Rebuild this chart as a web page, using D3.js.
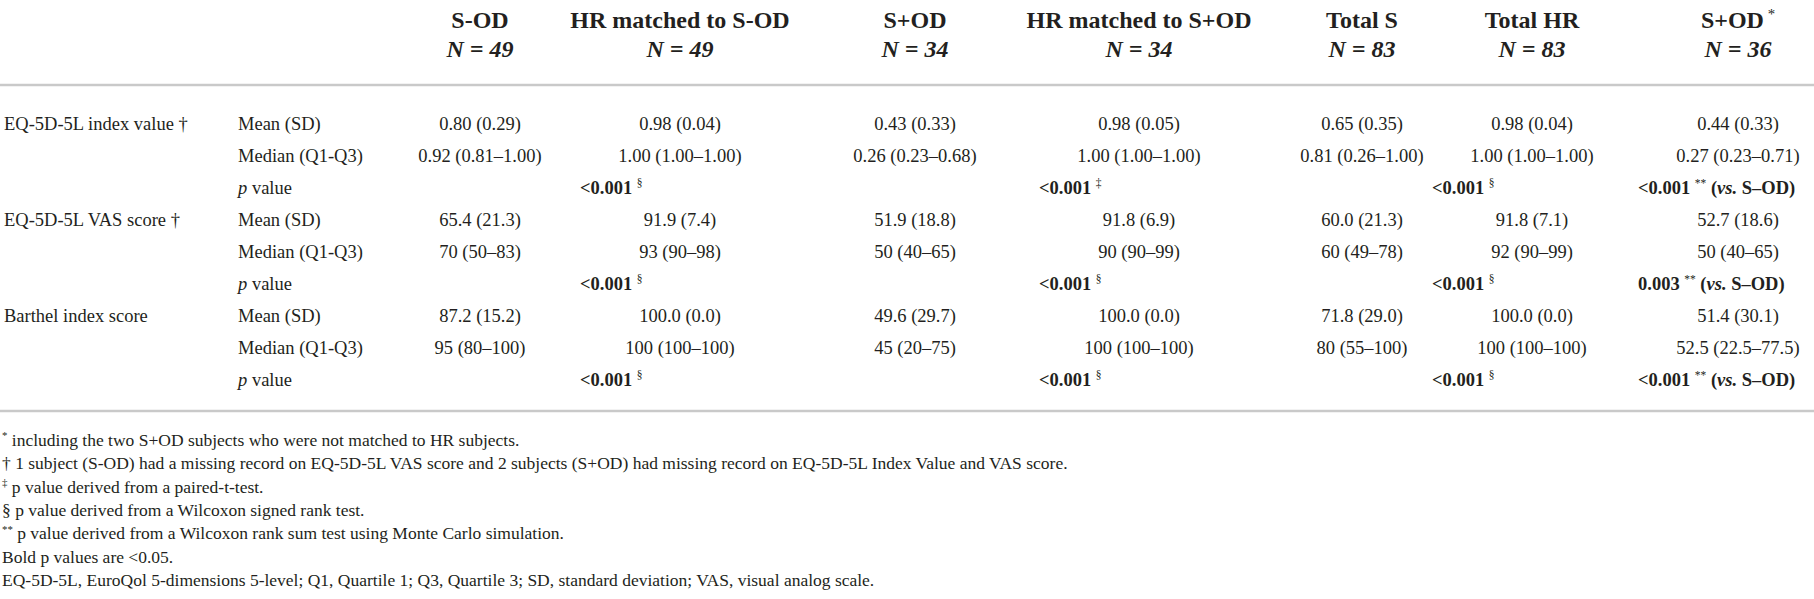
<!DOCTYPE html>
<html>
<head>
<meta charset="utf-8">
<script src="https://cdn.jsdelivr.net/npm/d3@7"></script>
<style>
  html, body { margin: 0; padding: 0; background: #fff; }
  svg text { font-family: "Liberation Serif", "Times New Roman", serif; fill: #231f20; }
</style>
</head>
<body>
<svg id="table" width="1814" height="599"></svg>
<script>
// ---- table data ----
var columns = ["S-OD", "HR matched to S-OD", "S+OD", "HR matched to S+OD", "Total S", "Total HR", "S+OD"];
var columnMarks = ["", "", "", "", "", "", "*"];
var sampleSizes = [49, 49, 34, 34, 83, 83, 36];

var measures = ["EQ-5D-5L index value †", "EQ-5D-5L VAS score †", "Barthel index score"];
var statRows = ["Mean (SD)", "Median (Q1-Q3)", "p value"];

var meanSD = [
    ["0.80 (0.29)", "0.98 (0.04)", "0.43 (0.33)", "0.98 (0.05)", "0.65 (0.35)", "0.98 (0.04)", "0.44 (0.33)"],
    ["65.4 (21.3)", "91.9 (7.4)", "51.9 (18.8)", "91.8 (6.9)", "60.0 (21.3)", "91.8 (7.1)", "52.7 (18.6)"],
    ["87.2 (15.2)", "100.0 (0.0)", "49.6 (29.7)", "100.0 (0.0)", "71.8 (29.0)", "100.0 (0.0)", "51.4 (30.1)"]
];
var medianIQR = [
    ["0.92 (0.81–1.00)", "1.00 (1.00–1.00)", "0.26 (0.23–0.68)", "1.00 (1.00–1.00)", "0.81 (0.26–1.00)", "1.00 (1.00–1.00)", "0.27 (0.23–0.71)"],
    ["70 (50–83)", "93 (90–98)", "50 (40–65)", "90 (90–99)", "60 (49–78)", "92 (90–99)", "50 (40–65)"],
    ["95 (80–100)", "100 (100–100)", "45 (20–75)", "100 (100–100)", "80 (55–100)", "100 (100–100)", "52.5 (22.5–77.5)"]
];

// p values sit in the matched / comparison columns
var pColumns = [1, 3, 5, 6];
var pValues = [
    ["<0.001", "<0.001", "<0.001", "<0.001"],
    ["<0.001", "<0.001", "<0.001", "0.003"],
    ["<0.001", "<0.001", "<0.001", "<0.001"]
];
var pTests = [
    ["§", "‡", "§", "**"],
    ["§", "§", "§", "**"],
    ["§", "§", "§", "**"]
];
var pComparison = ["", "", "", "S–OD"];

var footnotes = [
    [{t: "*", sup: true}, {t: " including the two S+OD subjects who were not matched to HR subjects."}],
    [{t: "† 1 subject (S-OD) had a missing record on EQ-5D-5L VAS score and 2 subjects (S+OD) had missing record on EQ-5D-5L Index Value and VAS score."}],
    [{t: "‡", sup: true}, {t: " p value derived from a paired-t-test."}],
    [{t: "§ p value derived from a Wilcoxon signed rank test."}],
    [{t: "**", sup: true}, {t: " p value derived from a Wilcoxon rank sum test using Monte Carlo simulation."}],
    [{t: "Bold p values are <0.05."}],
    [{t: "EQ-5D-5L, EuroQol 5-dimensions 5-level; Q1, Quartile 1; Q3, Quartile 3; SD, standard deviation; VAS, visual analog scale."}]
];

// ---- layout ----
var width = 1814, height = 599;
var headSize = 24, bodySize = 18.5, noteSize = 17.5;
var labelX = 4, statX = 238;
var pOffset = 100;

var colX = d3.scaleOrdinal()
    .domain(d3.range(columns.length))
    .range([480, 680, 915, 1139, 1362, 1532, 1738]);

var rowY = d3.scaleLinear().domain([0, measures.length * statRows.length - 1]).range([124, 380]);
var noteY = d3.scaleLinear().domain([0, footnotes.length - 1]).range([440, 580]);

var svg = d3.select("#table");
svg.append("rect").attr("width", width).attr("height", height).attr("fill", "#fff");

// writes a run of styled pieces as tspans
function richText(g, x, y, anchor, size, parts) {
    var text = g.append("text")
        .attr("x", x)
        .attr("y", y)
        .attr("text-anchor", anchor)
        .style("font-size", size + "px");
    var raised = false;
    parts.forEach(function(p) {
        var span = text.append("tspan").text(p.t);
        if (p.b) span.style("font-weight", "bold");
        if (p.i) span.style("font-style", "italic");
        if (p.sup && !raised) {
            span.attr("dy", -size * 0.38).style("font-size", (size * 0.62) + "px");
            raised = true;
        } else if (p.sup) {
            span.style("font-size", (size * 0.62) + "px");
        } else if (raised) {
            span.attr("dy", size * 0.38);
            raised = false;
        }
    });
    return text;
}

// header
var head = svg.append("g").attr("class", "head");
columns.forEach(function(c, i) {
    var parts = [{t: c, b: true}];
    if (columnMarks[i]) parts.push({t: " " + columnMarks[i], sup: true});
    richText(head, colX(i), 28, "middle", headSize, parts);
    richText(head, colX(i), 57, "middle", headSize, [{t: "N = " + sampleSizes[i], b: true, i: true}]);
});

svg.append("line")
    .attr("x1", 0).attr("x2", width)
    .attr("y1", 85).attr("y2", 85)
    .attr("stroke", "#c9c9c9").attr("stroke-width", 2.5);

// body
var body = svg.append("g").attr("class", "body");
measures.forEach(function(m, mi) {
    var base = mi * statRows.length;
    richText(body, labelX, rowY(base) + 6, "start", bodySize, [{t: m}]);

    statRows.forEach(function(s, si) {
        var y = rowY(base + si) + 6;
        if (si === 2) {
            richText(body, statX, y, "start", bodySize, [{t: "p", i: true}, {t: " value"}]);
        } else {
            richText(body, statX, y, "start", bodySize, [{t: s}]);
        }
    });

    columns.forEach(function(c, ci) {
        richText(body, colX(ci), rowY(base) + 6, "middle", bodySize, [{t: meanSD[mi][ci]}]);
        richText(body, colX(ci), rowY(base + 1) + 6, "middle", bodySize, [{t: medianIQR[mi][ci]}]);
    });

    pColumns.forEach(function(ci, pi) {
        var parts = [{t: pValues[mi][pi], b: true}, {t: " "}, {t: pTests[mi][pi], sup: true}];
        if (pComparison[pi]) {
            parts.push({t: " (", b: true});
            parts.push({t: "vs.", b: true, i: true});
            parts.push({t: " " + pComparison[pi] + ")", b: true});
        }
        richText(body, colX(ci) - pOffset, rowY(base + 2) + 6, "start", bodySize, parts);
    });
});

svg.append("line")
    .attr("x1", 0).attr("x2", width)
    .attr("y1", 411).attr("y2", 411)
    .attr("stroke", "#c9c9c9").attr("stroke-width", 2.5);

// footnotes
var notes = svg.append("g").attr("class", "notes");
footnotes.forEach(function(f, i) {
    richText(notes, 2, noteY(i) + 6, "start", noteSize, f);
});
</script>
</body>
</html>
